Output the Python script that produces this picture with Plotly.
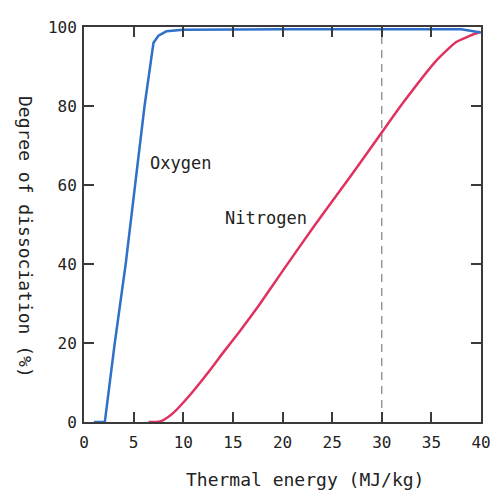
import plotly.graph_objects as go

# Oxygen dissociation curve
oxygen_x = [1.0, 2.1, 3.1, 4.2, 5.15, 6.1, 7.0, 7.5, 8.3, 10.0, 20.0, 38.0, 40.0]
oxygen_y = [0.0, 0.0, 20.0, 40.0, 60.0, 80.0, 96.0, 97.8, 98.9, 99.3, 99.4, 99.4, 98.6]

# Nitrogen dissociation curve
nitrogen_x = [6.5, 7.3, 8.0, 9.0, 10.7, 12.35, 14.0, 15.7, 17.7, 20.0, 23.3, 26.8, 30.0, 32.2, 35.5, 37.5, 38.9, 39.9]
nitrogen_y = [0.0, 0.0, 0.5, 2.3, 6.9, 12.0, 17.5, 23.0, 29.8, 38.2, 50.0, 62.0, 73.3, 81.0, 91.5, 96.2, 97.8, 98.8]

# Reference energy (dashed line)
ref_x = [30, 30]
ref_y = [0, 100]

x_ticks = [0, 5, 10, 15, 20, 25, 30, 35, 40]
y_ticks = [0, 20, 40, 60, 80, 100]

FONT = "DejaVu Sans Mono"
AX = "#3a3a3a"

fig = go.Figure()
fig.add_trace(go.Scatter(x=ref_x, y=ref_y, mode="lines",
                         line=dict(color="#8a8a8a", width=1.3, dash="8px,6px"),
                         hoverinfo="skip"))
fig.add_trace(go.Scatter(x=nitrogen_x, y=nitrogen_y, mode="lines",
                         line=dict(color="#e0325e", width=2.5, shape="spline", smoothing=0.5),
                         name="Nitrogen"))
fig.add_trace(go.Scatter(x=oxygen_x, y=oxygen_y, mode="lines",
                         line=dict(color="#2f70c8", width=2.5),
                         name="Oxygen"))

fig.add_annotation(x=6.45, y=65.6, text="Oxygen", showarrow=False, xanchor="left",
                   font=dict(family=FONT, size=17, color="#222"))
fig.add_annotation(x=14.0, y=51.7, text="Nitrogen", showarrow=False, xanchor="left",
                   font=dict(family=FONT, size=17, color="#222"))

fig.add_annotation(xref="paper", yref="paper", x=(305 - 84) / 397, y=(422 - 480) / 395,
                   xanchor="center", yanchor="middle",
                   text="Thermal energy (MJ/kg)", showarrow=False,
                   font=dict(family=FONT, size=18, color="#222"))
fig.add_annotation(xref="paper", yref="paper", x=(25 - 84) / 397, y=(422 - 237) / 395,
                   xanchor="center", yanchor="middle",
                   text="Degree of dissociation (%)", showarrow=False, textangle=90,
                   font=dict(family=FONT, size=18, color="#222"))

axis_common = dict(showline=True, linecolor=AX, linewidth=2, mirror="ticks",
                   ticks="inside", ticklen=10, tickwidth=2, tickcolor=AX,
                   showgrid=False, zeroline=False, automargin=False,
                   tickfont=dict(family=FONT, size=16, color="#222"))

fig.update_layout(
    width=491, height=496,
    margin=dict(l=84, r=10, t=27, b=74),
    plot_bgcolor="white", paper_bgcolor="white",
    showlegend=False,
    xaxis=dict(range=[0, 40], tickvals=x_ticks, ticklabelstandoff=5, **axis_common),
    yaxis=dict(range=[0, 100], tickvals=y_ticks, ticklabelstandoff=2, **axis_common),
)

fig.write_html("out.html", config={"displayModeBar": False},
               post_script="document.body.style.margin='0';document.body.style.overflow='hidden';")
